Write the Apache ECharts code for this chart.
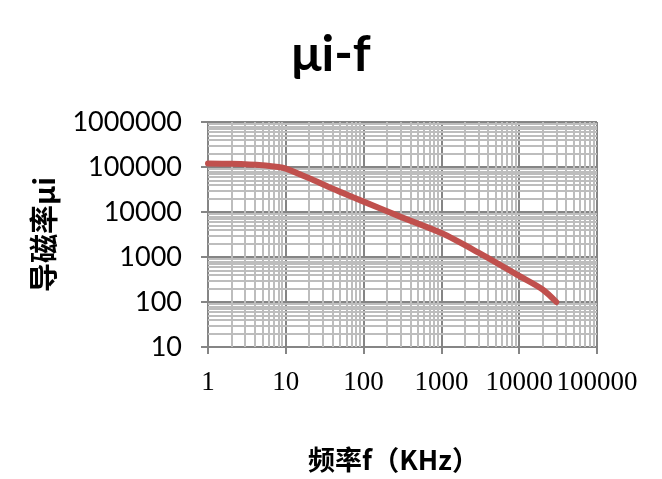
<!DOCTYPE html>
<html>
<head>
<meta charset="utf-8">
<script src="https://cdn.jsdelivr.net/npm/echarts@6/dist/echarts.min.js"></script>
<style>html,body{margin:0;padding:0;background:#fff}#c{width:662px;height:479px}</style>
</head>
<body>
<div id="c"></div>
<script>
// Frequency (KHz) and initial permeability readings
const freq = [1, 2, 5, 8, 10, 20, 35, 50, 100, 300, 1000, 3000, 10000, 20000, 30000];
const mu   = [120000, 118000, 110000, 100000, 92000, 56000, 36500, 28000, 17000, 7800, 3400, 1250, 380, 190, 100];
const xDecades = [1, 10, 100, 1000, 10000];
const yDecades = [10, 100, 1000, 10000, 100000];
const minorSteps = [2, 3, 4, 5, 6, 7, 8, 9];

const minorX = [];
xDecades.forEach(d => minorSteps.forEach(m => minorX.push(d * m)));
const minorY = [];
yDecades.forEach(d => minorSteps.forEach(m => minorY.push(d * m)));

const chart = echarts.init(document.getElementById('c'));
const minorStyle = { color: '#bdbdbd', width: 2, type: 'solid' };
chart.setOption({
  animation: false,
  title: {
    text: 'μi-f', left: 'center', top: 25,
    textStyle: { fontFamily: 'Lato', fontWeight: 'bold', fontSize: 50, color: '#000' }
  },
  grid: { left: 208, right: 65, top: 122, bottom: 132 },
  xAxis: {
    type: 'log', logBase: 10, min: 1, max: 100000,
    name: '频率f（KHz）', nameLocation: 'middle', nameGap: 99,
    nameTextStyle: { fontFamily: 'Noto Sans CJK SC', fontWeight: 'bold', fontSize: 27, color: '#000', padding: [0, 18, 0, 0] },
    axisLine: { lineStyle: { color: '#858585', width: 2 } },
    axisTick: { show: true, length: 7, lineStyle: { color: '#858585', width: 2 } },
    axisLabel: { fontFamily: 'Liberation Serif', fontSize: 27, color: '#000', margin: 22, formatter: v => String(Math.round(v)) },
    splitLine: { show: true, lineStyle: { color: '#858585', width: 2 } }
  },
  yAxis: {
    type: 'log', logBase: 10, min: 10, max: 1000000,
    name: '导磁率μi', nameLocation: 'middle', nameGap: 150, nameRotate: 90,
    nameTextStyle: { fontFamily: 'Noto Sans CJK SC', fontWeight: 'bold', fontSize: 29, color: '#000' },
    axisLine: { show: true, lineStyle: { color: '#858585', width: 2 } },
    axisTick: { show: true, length: 7, lineStyle: { color: '#858585', width: 2 } },
    axisLabel: { fontFamily: 'Lato', fontSize: 27, color: '#000', margin: 26, formatter: v => String(Math.round(v)) },
    splitLine: { show: true, lineStyle: { color: '#858585', width: 2 } }
  },
  series: [
    {
      type: 'line', data: [], silent: true, z: 1,
      markLine: {
        silent: true, symbol: ['none', 'none'], label: { show: false },
        lineStyle: minorStyle, animation: false,
        data: minorX.map(v => ({ xAxis: v })).concat(minorY.map(v => ({ yAxis: v })))
      }
    },
    {
      type: 'line', z: 5,
      data: freq.map((f, i) => [f, mu[i]]),
      smooth: 0.3, showSymbol: false,
      lineStyle: { color: '#c0504d', width: 6, cap: 'round' }
    }
  ]
});
</script>
</body>
</html>
